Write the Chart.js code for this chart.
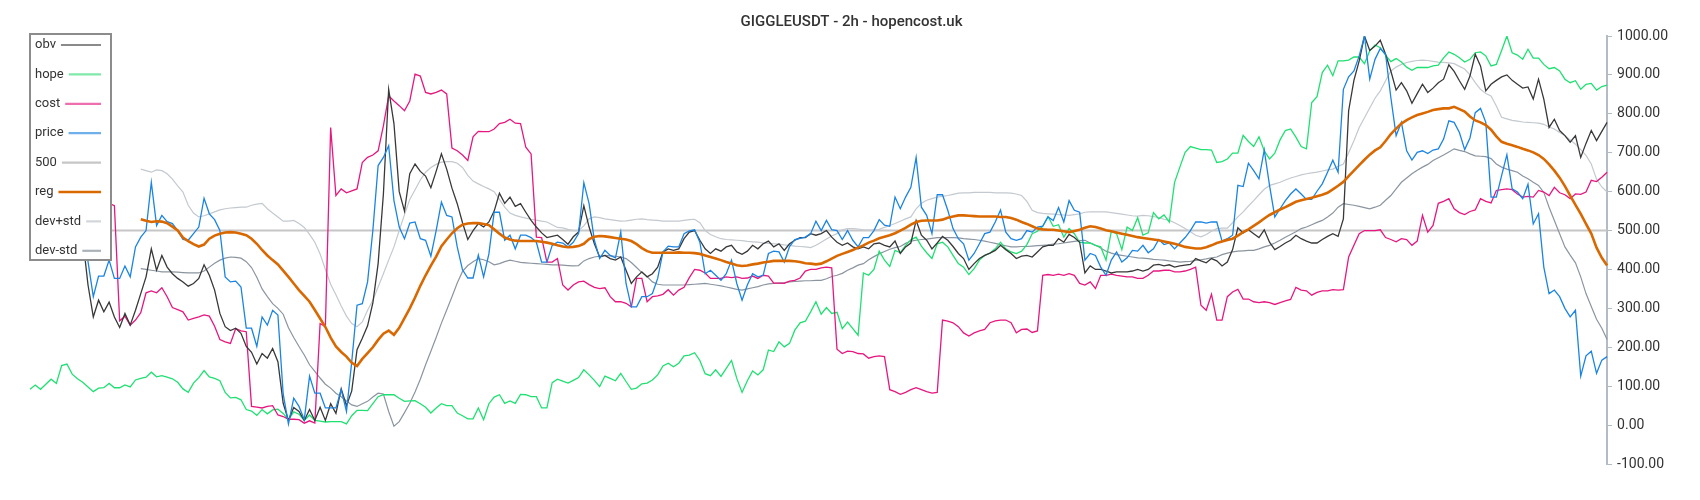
<!DOCTYPE html>
<html>
<head>
<meta charset="utf-8">
<title>GIGGLEUSDT - 2h - hopencost.uk</title>
<script src="https://cdn.jsdelivr.net/npm/chart.js@4.4.1/dist/chart.umd.min.js"></script>
<style>
  html, body { margin: 0; padding: 0; background: #fff; }
  #wrap { width: 1700px; height: 500px; }
</style>
</head>
<body>
<div id="wrap"><canvas id="chart" width="1700" height="500"></canvas></div>
<script>
// bar index on the x axis (2h candles)
const labels = Array.from({ length: 300 }, (_, i) => i);

const obv = [
  560, 600, 640, 610, 580, 600, 560, 540, 520, 500,
  480, 360, 278, 321, 291, 316, 278, 251, 287, 257,
  295, 338, 381, 453, 398, 436, 406, 389, 377, 368,
  357, 364, 377, 412, 385, 347, 287, 253, 243, 249,
  236, 202, 187, 157, 184, 172, 197, 163, 56, 12,
  45, 35, 12, 40, 12, 46, 12, 55, 30, 93,
  50, 88, 194, 223, 255, 314, 415, 594, 863, 775,
  600, 550, 646, 671, 652, 640, 610, 652, 697, 658,
  609, 569, 520, 477, 500, 518, 509, 522, 550, 596,
  570, 586, 562, 569, 547, 526, 509, 494, 482, 485,
  488, 477, 465, 484, 496, 564, 509, 466, 432, 436,
  428, 424, 432, 398, 364, 381, 394, 381, 389, 406,
  445, 453, 449, 453, 479, 496, 500, 475, 453, 441,
  453, 447, 458, 462, 445, 439, 447, 462, 453, 466,
  473, 458, 466, 449, 466, 475, 482, 482, 492, 488,
  492, 500, 483, 470, 462, 468, 458, 453, 458, 453,
  466, 468, 462, 458, 473, 441, 458, 468, 526, 488,
  475, 453, 468, 485, 475, 459, 441, 428, 400, 415,
  428, 436, 442, 449, 462, 451, 441, 428, 434, 436,
  432, 445, 458, 462, 462, 479, 470, 490, 482, 470,
  391, 409, 400, 400, 396, 391, 394, 394, 394, 396,
  400, 396, 400, 411, 413, 409, 412, 406, 409, 411,
  413, 428, 422, 417, 428, 422, 409, 419, 451, 507,
  494, 502, 492, 482, 502, 470, 451, 459, 468, 475,
  488, 479, 473, 468, 468, 477, 485, 492, 485, 530,
  808, 886, 936, 1000, 963, 974, 989, 953, 910, 861,
  880, 859, 827, 852, 876, 855, 866, 880, 889, 926,
  909, 885, 863, 897, 953, 923, 859, 876, 886, 895,
  900, 886, 876, 866, 869, 838, 889, 838, 765, 786,
  757, 744, 727, 744, 688, 724, 757, 731, 755, 778
];

const hope = [
  92, 103, 92, 105, 118, 107, 153, 157, 131, 119,
  110, 98, 86, 95, 96, 107, 96, 96, 103, 98,
  116, 120, 123, 136, 124, 127, 123, 119, 110, 93,
  84, 108, 122, 140, 124, 120, 114, 84, 70, 71,
  65, 40, 36, 25, 40, 29, 39, 41, 30, 14,
  34, 28, 12, 26, 12, 10, 8, 9, 9, 9,
  3, 24, 38, 38, 37, 55, 73, 78, 78, 78,
  69, 61, 62, 63, 55, 46, 31, 44, 55, 50,
  50, 31, 24, 16, 16, 44, 14, 55, 72, 78,
  56, 62, 56, 79, 78, 73, 73, 44, 44, 109,
  118, 113, 108, 115, 122, 142, 129, 115, 99, 126,
  120, 114, 133, 112, 92, 95, 106, 108, 116, 129,
  152, 159, 150, 159, 178, 180, 186, 166, 132, 127,
  142, 125, 146, 166, 120, 84, 114, 139, 129, 142,
  193, 189, 214, 201, 210, 244, 263, 267, 291, 317,
  285, 302, 287, 290, 248, 265, 248, 231, 391, 385,
  400, 447, 424, 408, 449, 443, 462, 476, 483, 460,
  443, 428, 466, 470, 458, 436, 415, 406, 387, 402,
  424, 436, 442, 453, 470, 453, 445, 441, 447, 464,
  492, 498, 511, 536, 511, 515, 483, 505, 492, 470,
  468, 468, 462, 458, 424, 498, 492, 451, 509, 500,
  533, 488, 494, 546, 530, 540, 522, 624, 663, 701,
  716, 712, 708, 708, 707, 675, 677, 684, 699, 699,
  745, 729, 716, 741, 705, 684, 699, 733, 757, 761,
  740, 716, 710, 829, 844, 906, 925, 898, 936, 936,
  938, 946, 946, 929, 962, 977, 970, 951, 934, 942,
  933, 920, 912, 919, 919, 919, 923, 925, 944, 959,
  953, 944, 933, 940, 957, 959, 949, 923, 927, 963,
  1000, 957, 951, 940, 966, 943, 943, 927, 916, 919,
  910, 889, 880, 885, 863, 876, 878, 861, 870, 874
];

const cost = [
  700, 760, 820, 880, 930, 960, 990, 1000, 960, 900,
  820, 740, 660, 600, 572, 570, 564, 268, 280, 257,
  270, 289, 340, 345, 340, 353, 330, 302, 297, 291,
  270, 274, 278, 283, 280, 254, 220, 214, 210, 248,
  242, 240, 48, 46, 44, 48, 50, 26, 22, 15,
  15, 14, 5, 11, 5, 261, 253, 765, 590, 607,
  597, 602, 607, 675, 688, 694, 705, 769, 846, 833,
  821, 808, 833, 902, 897, 855, 851, 855, 861, 851,
  712, 705, 694, 680, 741, 755, 754, 754, 761, 775,
  778, 786, 776, 775, 714, 697, 483, 482, 419, 419,
  428, 360, 347, 360, 368, 370, 361, 354, 351, 353,
  330, 317, 317, 313, 304, 377, 377, 317, 330, 332,
  336, 348, 334, 347, 354, 379, 400, 398, 391, 377,
  377, 377, 381, 379, 381, 377, 378, 383, 377, 385,
  383, 365, 365, 364, 370, 372, 378, 396, 400, 400,
  404, 406, 404, 195, 184, 190, 189, 184, 183, 172,
  176, 178, 176, 91, 86, 79, 84, 91, 96, 91,
  86, 82, 84, 270, 267, 263, 253, 237, 229, 237,
  242, 246, 263, 268, 270, 270, 263, 237, 246, 247,
  238, 242, 385, 387, 385, 388, 385, 389, 385, 364,
  360, 368, 351, 385, 385, 388, 385, 383, 381, 381,
  377, 377, 385, 396, 396, 398, 398, 394, 394, 396,
  400, 406, 308, 295, 336, 270, 270, 330, 342, 349,
  324, 324, 317, 315, 317, 315, 310, 315, 319, 323,
  354, 347, 345, 334, 341, 345, 345, 348, 347, 348,
  432, 462, 492, 500, 500, 500, 502, 482, 477, 471,
  479, 477, 462, 473, 539, 496, 513, 570, 575, 582,
  556, 546, 541, 549, 553, 582, 575, 571, 603, 605,
  607, 605, 594, 586, 588, 586, 603, 599, 590, 611,
  597, 592, 582, 594, 593, 599, 629, 626, 637, 650
];

const price = [
  520, 560, 600, 640, 600, 560, 620, 580, 540, 520,
  500, 420, 330, 383, 383, 424, 377, 377, 409, 381,
  458, 483, 500, 624, 513, 539, 523, 518, 500, 477,
  475, 492, 509, 583, 543, 528, 500, 381, 368, 370,
  355, 249, 249, 202, 278, 257, 295, 283, 80, 3,
  69, 48, 14, 126, 82, 82, 44, 44, 44, 91,
  35, 163, 308, 312, 368, 500, 667, 688, 718, 577,
  509, 479, 519, 522, 479, 475, 434, 500, 573, 539,
  535, 458, 399, 378, 378, 437, 381, 440, 547, 547,
  475, 488, 453, 488, 488, 482, 470, 419, 419, 462,
  470, 468, 458, 470, 492, 623, 569, 475, 428, 449,
  436, 430, 496, 364, 304, 304, 330, 330, 338, 377,
  445, 460, 458, 458, 492, 499, 502, 470, 389, 398,
  385, 372, 389, 424, 364, 321, 360, 389, 381, 385,
  441, 447, 445, 419, 459, 477, 480, 483, 492, 524,
  500, 526, 502, 500, 477, 500, 475, 458, 482, 482,
  500, 528, 514, 511, 586, 556, 586, 611, 688, 560,
  539, 492, 592, 592, 552, 505, 479, 466, 424, 441,
  466, 492, 496, 522, 553, 496, 479, 475, 479, 500,
  496, 509, 511, 535, 526, 559, 522, 577, 552, 547,
  424, 441, 436, 406, 385, 424, 445, 419, 430, 449,
  447, 462, 443, 453, 477, 464, 468, 453, 468, 482,
  500, 522, 522, 519, 522, 522, 473, 479, 488, 616,
  613, 673, 654, 633, 707, 616, 535, 556, 577, 594,
  607, 594, 580, 580, 601, 620, 650, 681, 650, 863,
  895, 910, 949, 1000, 889, 940, 968, 953, 842, 744,
  778, 705, 681, 701, 705, 698, 707, 710, 735, 782,
  778, 752, 708, 738, 803, 814, 778, 586, 586, 641,
  695, 607, 599, 582, 619, 517, 543, 406, 338, 347,
  330, 300, 278, 295, 126, 178, 190, 133, 167, 176
];

const level500 = labels.map(() => 500);

// regression band only exists once the window is full
const bandStart = 21;

const regVals = [
  529, 525, 522, 524, 523, 519, 510, 500, 482, 473,
  465, 459, 464, 479, 487, 492, 495, 496, 495, 492,
  488, 479, 466, 450, 436, 424, 413, 397, 381, 364,
  347, 332, 317, 296, 274, 252, 225, 202, 188, 176,
  160, 152, 170, 185, 200, 219, 235, 243, 232, 250,
  275, 300, 328, 358, 385, 410, 433, 460, 477, 493,
  506, 515, 518, 519, 519, 517, 514, 503, 492, 482,
  477, 474, 473, 473, 473, 473, 471, 469, 466, 462,
  459, 457, 458, 460, 466, 478, 484, 486, 485, 483,
  481, 479, 477, 473, 465, 455, 447, 443, 443, 443,
  443, 443, 444, 443, 443, 442, 440, 436, 432, 428,
  424, 419, 415, 411, 409, 410, 413, 415, 418, 420,
  422, 422, 422, 422, 421, 419, 416, 415, 413, 415,
  421, 428, 435, 440, 445, 450, 456, 462, 469, 474,
  480, 484, 488, 493, 500, 507, 515, 522, 525, 526,
  526, 526, 528, 533, 536, 539, 539, 538, 537, 536,
  536, 536, 536, 535, 535, 532, 528, 522, 517, 511,
  505, 503, 502, 502, 500, 498, 496, 499, 502, 507,
  511, 509, 505, 501, 498, 495, 492, 489, 486, 483,
  481, 479, 477, 475, 472, 469, 466, 462, 458, 456,
  454, 454, 457, 462, 468, 472, 476, 479, 487, 496,
  503, 512, 521, 531, 540, 547, 554, 560, 567, 574,
  578, 581, 584, 588, 592, 597, 606, 615, 625, 640,
  654, 668, 682, 695, 706, 714, 730, 748, 762, 775,
  784, 791, 797, 801, 805, 810, 812, 814, 814, 818,
  812, 806, 793, 783, 778, 771, 759, 742, 728, 723,
  719, 715, 710, 706, 701, 694, 684, 670, 654, 636,
  614, 590, 566, 543, 517, 492, 456, 430, 410
];

const devPlusVals = [
  658, 654, 650, 656, 654, 646, 632, 615, 599, 565,
  545, 535, 538, 543, 548, 553, 556, 558, 559, 560,
  560, 565, 568, 570, 556, 545, 535, 524, 524, 526,
  518, 508, 490, 470, 440, 400, 362, 335, 306, 280,
  261, 253, 265, 295, 321, 355, 389, 424, 458, 500,
  541, 580, 605, 630, 650, 662, 670, 676, 677, 677,
  673, 662, 642, 627, 620, 613, 607, 600, 580, 560,
  545, 539, 535, 532, 529, 527, 524, 522, 515, 508,
  507, 503, 500, 500, 512, 530, 535, 533, 530, 528,
  526, 524, 525, 527, 529, 530, 528, 527, 526, 524,
  524, 524, 524, 526, 528, 529, 520, 500, 490, 484,
  479, 477, 476, 475, 474, 472, 471, 470, 468, 467,
  466, 465, 463, 462, 460, 459, 458, 456, 462, 470,
  478, 486, 492, 502, 505, 505, 504, 502, 501, 502,
  503, 508, 513, 518, 524, 530, 535, 556, 570, 578,
  582, 586, 588, 590, 593, 596, 597, 597, 598, 598,
  598, 598, 597, 597, 597, 596, 594, 590, 575, 552,
  546, 544, 543, 542, 541, 540, 539, 541, 543, 547,
  548, 548, 548, 548, 546, 544, 542, 540, 538, 537,
  539, 538, 536, 533, 529, 526, 520, 513, 505, 497,
  488, 484, 490, 498, 505, 506, 506, 520, 535, 548,
  563, 577, 592, 606, 616, 620, 624, 630, 635, 639,
  643, 646, 648, 650, 653, 656, 658, 665, 671, 700,
  731, 765, 790, 815, 840, 859, 885, 910, 920, 927,
  932, 935, 937, 938, 937, 935, 933, 932, 931, 929,
  922, 915, 900, 880, 863, 852, 846, 820, 791, 787,
  783, 781, 779, 778, 777, 776, 773, 766, 761, 752,
  744, 733, 722, 708, 693, 671, 632, 612, 599
];

const devMinusVals = [
  402, 400, 398, 396, 394, 394, 394, 393, 392, 391,
  391, 391, 396, 406, 416, 424, 429, 432, 431, 429,
  420, 405, 380, 350, 330, 312, 300, 285, 250, 225,
  202, 180, 155, 138, 121, 105, 95, 82, 73, 62,
  52, 48, 55, 61, 72, 82, 80, 35, -3, 9,
  32, 56, 85, 118, 155, 190, 225, 262, 296, 330,
  365, 395, 410, 420, 428, 425, 420, 412, 415, 420,
  424, 421, 418, 417, 416, 415, 414, 413, 412, 412,
  411, 410, 409, 410, 422, 428, 432, 434, 436, 435,
  434, 432, 428, 418, 405, 392, 382, 368, 362, 360,
  360, 360, 360, 360, 361, 362, 363, 364, 362, 360,
  358, 355, 352, 349, 347, 350, 353, 356, 360, 363,
  364, 365, 366, 368, 369, 370, 371, 371, 372, 372,
  376, 382, 385, 390, 398, 404, 411, 415, 425, 433,
  440, 446, 452, 456, 459, 467, 473, 475, 477, 478,
  480, 482, 482, 482, 482, 481, 479, 478, 477, 475,
  473, 470, 467, 464, 461, 458, 458, 459, 459, 460,
  461, 462, 463, 465, 466, 468, 470, 472, 474, 475,
  468, 462, 455, 447, 442, 438, 436, 434, 432, 430,
  429, 428, 426, 425, 424, 422, 421, 419, 420, 421,
  423, 425, 427, 430, 432, 438, 442, 445, 447, 448,
  449, 449, 453, 458, 462, 468, 475, 483, 490, 497,
  505, 509, 515, 521, 526, 535, 545, 560, 569, 567,
  565, 562, 559, 556, 560, 565, 578, 590, 607, 624,
  635, 646, 655, 663, 670, 680, 687, 694, 702, 710,
  706, 703, 697, 692, 691, 690, 685, 671, 663, 658,
  654, 650, 640, 633, 624, 616, 598, 560, 526, 492,
  458, 437, 417, 381, 338, 305, 272, 249, 220
];

const lead = Array(bandStart).fill(null);
const reg = lead.concat(regVals);
const devPlus = lead.concat(devPlusVals);
const devMinus = lead.concat(devMinusVals);

const yTicks = { min: -100, max: 1000, step: 100 };

function line(label, data, color, width, order, legendColor) {
  return {
    label: label,
    data: data,
    borderColor: color,
    backgroundColor: color,
    borderWidth: width,
    pointRadius: 0,
    pointHoverRadius: 0,
    tension: 0,
    fill: false,
    order: order,
    legendColor: legendColor || color,
  };
}

const datasets = [
  line("obv", obv, "#383838", 1.3, 2, "#8a8a8a"),
  line("hope", hope, "#1fe072", 1.3, 4, "#7fe9aa"),
  line("cost", cost, "#e6177f", 1.3, 3, "#ef6fae"),
  line("price", price, "#1a84e2", 1.3, 1, "#6fb0ec"),
  line("500", level500, "#c6c6c6", 2, 7, "#c6c6c6"),
  line("reg", reg, "#d96800", 2.6, 0, "#d96800"),
  line("dev+std", devPlus, "#c3c9cf", 1.2, 5, "#d2d6da"),
  line("dev-std", devMinus, "#8b95a0", 1.2, 6, "#aab1b8"),
];

// legend drawn as a box over the top-left of the plot
const overlayLegend = {
  id: "overlayLegend",
  afterDraw(chart) {
    const ctx = chart.ctx;
    const x = 30, y = 34, w = 81, h = 226;
    ctx.save();
    ctx.fillStyle = "#ffffff";
    ctx.fillRect(x, y, w, h);
    ctx.strokeStyle = "#8c8c8c";
    ctx.lineWidth = 2;
    ctx.strokeRect(x, y, w, h);
    ctx.font = "13px Roboto";
    ctx.textBaseline = "middle";
    chart.data.datasets.forEach((ds, k) => {
      const cy = 45 + k * 29.4;
      ctx.fillStyle = "#333333";
      ctx.fillText(ds.label, x + 5, cy);
      const tw = ctx.measureText(ds.label).width;
      ctx.strokeStyle = ds.legendColor;
      ctx.lineWidth = ds.label === "reg" ? 2.6 : 2.2;
      ctx.beginPath();
      ctx.moveTo(x + 5 + tw + 5, cy);
      ctx.lineTo(x + w - 10, cy);
      ctx.stroke();
    });
    ctx.restore();
  },
};

Chart.defaults.font.family = "Roboto";

new Chart(document.getElementById("chart").getContext("2d"), {
  type: "line",
  data: { labels: labels, datasets: datasets },
  options: {
    responsive: false,
    animation: false,
    layout: { padding: { left: 30, right: 27, top: 0, bottom: 36 } },
    plugins: {
      legend: { display: false },
      tooltip: { enabled: false },
      title: {
        display: true,
        text: "GIGGLEUSDT - 2h - hopencost.uk",
        color: "#333333",
        font: { size: 15, weight: "500" },
        padding: { top: 13, bottom: 5 },
      },
    },
    scales: {
      x: { display: false, offset: false },
      y: {
        position: "right",
        min: yTicks.min,
        max: yTicks.max,
        ticks: {
          stepSize: yTicks.step,
          color: "#333333",
          font: { size: 14 },
          padding: 5,
          callback: (v) => Number(v).toFixed(2),
        },
        grid: { drawOnChartArea: false, drawTicks: true, tickLength: 5, color: "#b3bcc4" },
        border: { color: "#b3bcc4", width: 2 },
      },
    },
  },
  plugins: [overlayLegend],
});
</script>
</body>
</html>
